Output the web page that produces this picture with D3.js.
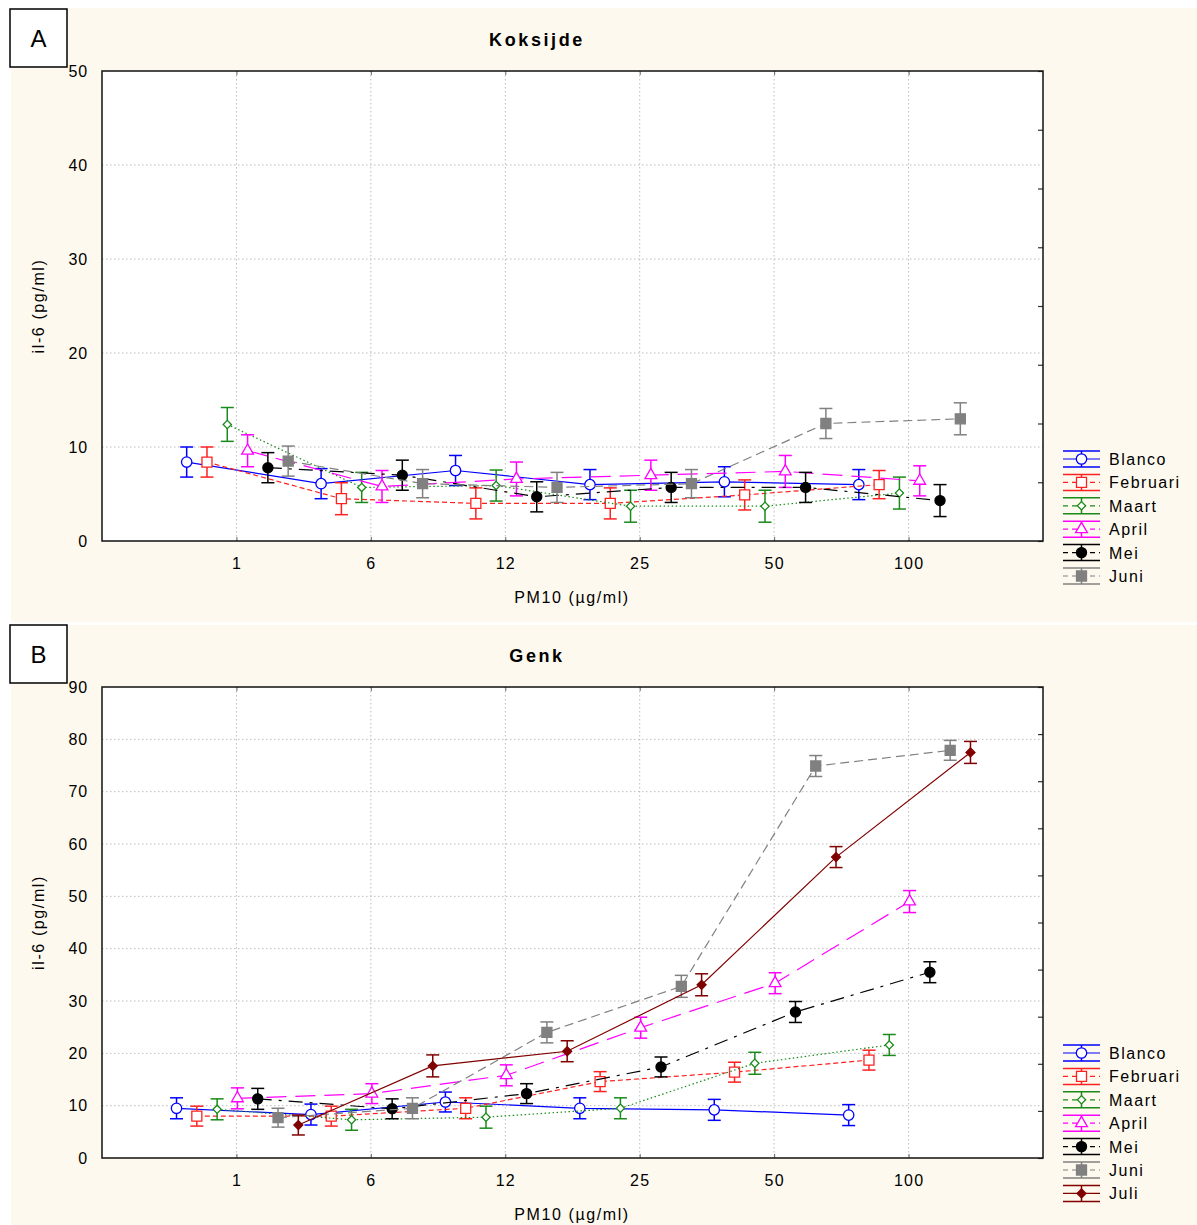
<!DOCTYPE html>
<html>
<head>
<meta charset="utf-8">
<script src="https://cdn.jsdelivr.net/npm/d3@7"></script>
<style>
  html, body { margin: 0; padding: 0; background: #fff; }
  svg { display: block; font-family: "Liberation Sans", Arial, sans-serif; }
</style>
</head>
<body>
<div id="chart"></div>
<script>
// PM10 concentrations (categorical x axis)
const concentrations = ['1', '6', '12', '25', '50', '100'];

const koksijdeSeries = ['Blanco', 'Februari', 'Maart', 'April', 'Mei', 'Juni'];
const genkSeries = ['Blanco', 'Februari', 'Maart', 'April', 'Mei', 'Juni', 'Juli'];

// Koksijde: means and error (+/-) per month
const kokBlanco = [8.4, 6.1, 7.5, 6.0, 6.3, 6.0];
const kokFebruari = [8.4, 4.5, 4.0, 4.0, 4.9, 6.0];
const kokMaart = [12.4, 5.7, 5.9, 3.7, 3.7, 5.1];
const kokApril = [9.6, 5.8, 6.6, 7.0, 7.4, 6.4];
const kokMei = [7.8, 7.0, 4.7, 5.7, 5.7, 4.3];
const kokJuni = [8.5, 6.1, 5.7, 6.1, 12.5, 13.0];
const kokBlancoErr = [1.6, 1.6, 1.6, 1.6, 1.6, 1.6];
const kokFebruariErr = [1.6, 1.7, 1.65, 1.65, 1.6, 1.5];
const kokMaartErr = [1.8, 1.6, 1.65, 1.7, 1.7, 1.7];
const kokAprilErr = [1.7, 1.7, 1.8, 1.6, 1.7, 1.6];
const kokMeiErr = [1.6, 1.6, 1.6, 1.6, 1.6, 1.7];
const kokJuniErr = [1.6, 1.5, 1.6, 1.5, 1.6, 1.7];

// Genk: means and error (+/-) per month
const genkBlanco = [9.5, 8.3, 10.7, 9.5, 9.2, 8.2];
const genkFebruari = [8.0, 8.0, 9.5, 14.6, 16.4, 18.7];
const genkMaart = [9.3, 7.3, 7.8, 9.5, 18.1, 21.6];
const genkApril = [11.4, 12.3, 15.8, 24.9, 33.4, 49.0];
const genkMei = [11.3, 9.4, 12.3, 17.4, 27.9, 35.5];
const genkJuni = [7.7, 9.5, 24.0, 32.8, 74.9, 77.9];
const genkJuli = [6.3, 17.6, 20.4, 33.1, 57.5, 77.5];
const genkBlancoErr = [2.0, 2.0, 1.9, 2.0, 2.0, 2.0];
const genkFebruariErr = [1.9, 1.9, 2.0, 1.9, 1.9, 1.9];
const genkMaartErr = [2.0, 2.0, 2.1, 2.0, 2.1, 2.0];
const genkAprilErr = [2.0, 1.9, 2.0, 2.0, 2.0, 2.1];
const genkMeiErr = [2.0, 1.9, 1.9, 1.9, 2.0, 2.0];
const genkJuniErr = [1.8, 2.0, 2.0, 2.1, 2.0, 1.9];
const genkJuliErr = [1.9, 2.1, 2.0, 2.1, 2.0, 2.1];

const koksijdeValues = [kokBlanco, kokFebruari, kokMaart, kokApril, kokMei, kokJuni];
const koksijdeErrors = [kokBlancoErr, kokFebruariErr, kokMaartErr, kokAprilErr, kokMeiErr, kokJuniErr];
const genkValues = [genkBlanco, genkFebruari, genkMaart, genkApril, genkMei, genkJuni, genkJuli];
const genkErrors = [genkBlancoErr, genkFebruariErr, genkMaartErr, genkAprilErr, genkMeiErr, genkJuniErr, genkJuliErr];

// diamonds are drawn as rotated squares (rot: 45)
const styles = {
  Blanco:   { color: '#0000ff', dash: null,       symbol: d3.symbolCircle,   size: 85,  fill: '#fff', rot: 0 },
  Februari: { color: '#ff2020', dash: '5,3',      symbol: d3.symbolSquare,   size: 100, fill: '#fff', rot: 0 },
  Maart:    { color: '#1a8a1a', dash: '1.5,2.5',  symbol: d3.symbolSquare,   size: 34,  fill: '#fff', rot: 45 },
  April:    { color: '#ff00ff', dash: '20,9',     symbol: d3.symbolTriangle, size: 60,  fill: '#fff', rot: 0 },
  Mei:      { color: '#000000', dash: '14,7,3,7', symbol: d3.symbolCircle,   size: 80,  fill: '#000', rot: 0 },
  Juni:     { color: '#808080', dash: '9,5',      symbol: d3.symbolSquare,   size: 100, fill: '#808080', rot: 0 },
  Juli:     { color: '#800000', dash: null,       symbol: d3.symbolSquare,   size: 40,  fill: '#800000', rot: 45 }
};

const W = 1197, H = 1225;
const svg = d3.select('#chart').append('svg').attr('width', W).attr('height', H);

function drawPanel(cfg) {
  const { top, bottom, left, right } = cfg.plot;
  const g = svg.append('g');

  // panel background
  g.append('rect').attr('x', 11).attr('y', cfg.bg[0]).attr('width', W - 11).attr('height', cfg.bg[1] - cfg.bg[0])
    .attr('fill', '#fef9ee');

  // letter box
  g.append('rect').attr('x', 10).attr('y', cfg.box).attr('width', 57).attr('height', 58)
    .attr('fill', '#fff').attr('stroke', '#000').attr('stroke-width', 1.5);
  g.append('text').attr('x', 38.5).attr('y', cfg.box + 38).attr('text-anchor', 'middle')
    .attr('font-size', 24).text(cfg.letter);

  // title
  g.append('text').attr('x', 537).attr('y', top - 25).attr('text-anchor', 'middle')
    .attr('font-size', 18).attr('font-weight', 'bold').attr('letter-spacing', 2.6).text(cfg.title);

  const x = d3.scalePoint().domain(concentrations).range([left, right]).padding(1);
  const n = cfg.series.length;
  const off = d3.scalePoint().domain(cfg.series).range([-(n - 1) / 2 * 20.3 + 1, (n - 1) / 2 * 20.3 + 1]);
  const y = d3.scaleLinear().domain([0, cfg.yMax]).range([bottom, top]);

  g.append('rect').attr('x', left).attr('y', top).attr('width', right - left).attr('height', bottom - top)
    .attr('fill', '#fff');

  // grid
  const grid = g.append('g').attr('stroke', '#bdbdbd').attr('stroke-dasharray', '1.5,2.5').attr('stroke-width', 1);
  grid.selectAll('.gx').data(concentrations).join('line')
    .attr('x1', d => x(d)).attr('x2', d => x(d)).attr('y1', top).attr('y2', bottom);
  grid.selectAll('.gy').data(d3.range(10, cfg.yMax, 10)).join('line')
    .attr('x1', left).attr('x2', right).attr('y1', d => y(d)).attr('y2', d => y(d));

  // axes
  const yAxis = g.append('g').attr('transform', `translate(${left},0)`)
    .call(d3.axisLeft(y).tickValues(d3.range(0, cfg.yMax + 1, 10)).tickSize(0).tickPadding(14));
  yAxis.select('.domain').remove();
  yAxis.selectAll('text').attr('font-size', 16).attr('fill', '#000').attr('letter-spacing', 0.8)
    .attr('font-family', 'Liberation Sans, Arial, sans-serif');

  const xAxis = g.append('g').attr('transform', `translate(0,${bottom})`)
    .call(d3.axisBottom(x).tickSize(0).tickPadding(17));
  xAxis.select('.domain').remove();
  xAxis.selectAll('text').attr('font-size', 16).attr('fill', '#000').attr('letter-spacing', 1.2)
    .attr('font-family', 'Liberation Sans, Arial, sans-serif');

  // short inner ticks on bottom and top
  const tb = g.append('g').attr('transform', `translate(0,${bottom})`).call(d3.axisTop(x).tickSize(4).tickFormat(''));
  tb.select('.domain').remove();
  tb.selectAll('line').attr('stroke', '#666');
  const tt = g.append('g').attr('transform', `translate(0,${top})`).call(d3.axisBottom(x).tickSize(4).tickFormat(''));
  tt.select('.domain').remove();
  tt.selectAll('line').attr('stroke', '#666');

  // right side ticks
  const yr = d3.scaleLinear().domain([0, cfg.rightDiv]).range([bottom, top]);
  const tr = g.append('g').attr('transform', `translate(${right},0)`)
    .call(d3.axisLeft(yr).ticks(cfg.rightDiv).tickSize(5).tickFormat(''));
  tr.select('.domain').remove();
  tr.selectAll('line').attr('stroke', '#333').attr('stroke-width', 1.2);

  // frame
  g.append('rect').attr('x', left).attr('y', top).attr('width', right - left).attr('height', bottom - top)
    .attr('fill', 'none').attr('stroke', '#111').attr('stroke-width', 1.5);

  // series
  cfg.series.forEach((name, i) => {
    const st = styles[name];
    const pts = concentrations.map((c, j) => ({ x: x(c) + off(name), v: cfg.values[i][j], e: cfg.errors[i][j] }));
    const sg = g.append('g');
    sg.append('path').datum(pts)
      .attr('d', d3.line().x(d => d.x).y(d => y(d.v)))
      .attr('fill', 'none').attr('stroke', st.color).attr('stroke-width', 1.2)
      .attr('stroke-dasharray', st.dash);
    const eb = sg.selectAll('.eb').data(pts).join('g').attr('stroke', st.color).attr('stroke-width', 1.5);
    eb.append('line').attr('x1', d => d.x).attr('x2', d => d.x).attr('y1', d => y(d.v - d.e)).attr('y2', d => y(d.v + d.e));
    eb.append('line').attr('x1', d => d.x - 6.5).attr('x2', d => d.x + 6.5).attr('y1', d => y(d.v + d.e)).attr('y2', d => y(d.v + d.e));
    eb.append('line').attr('x1', d => d.x - 6.5).attr('x2', d => d.x + 6.5).attr('y1', d => y(d.v - d.e)).attr('y2', d => y(d.v - d.e));
    sg.selectAll('.mk').data(pts).join('path')
      .attr('transform', d => `translate(${d.x},${y(d.v)}) rotate(${st.rot})`)
      .attr('d', d3.symbol().type(st.symbol).size(st.size))
      .attr('fill', st.fill).attr('stroke', st.color).attr('stroke-width', 1.3);
  });

  // axis titles
  g.append('text').attr('transform', `translate(44,${(top + bottom) / 2}) rotate(-90)`)
    .attr('text-anchor', 'middle').attr('font-size', 16).attr('letter-spacing', 1.6).text('il-6 (pg/ml)');
  g.append('text').attr('x', 572).attr('y', bottom + 62).attr('text-anchor', 'middle')
    .attr('font-size', 16).attr('letter-spacing', 1.6).text('PM10 (µg/ml)');

  // legend
  const lg = g.append('g');
  cfg.series.forEach((name, i) => {
    const st = styles[name];
    const cy = cfg.legendY + i * 23.4;
    const x0 = 1063, x1 = 1100, cx = (x0 + x1) / 2;
    const e = lg.append('g').attr('stroke', st.color);
    e.append('line').attr('x1', x0).attr('x2', x1).attr('y1', cy - 8).attr('y2', cy - 8).attr('stroke-width', 1.5);
    e.append('line').attr('x1', x0).attr('x2', x1).attr('y1', cy + 8).attr('y2', cy + 8).attr('stroke-width', 1.5);
    e.append('line').attr('x1', cx).attr('x2', cx).attr('y1', cy - 8).attr('y2', cy + 8).attr('stroke-width', 1.5);
    e.append('line').attr('x1', x0).attr('x2', x1).attr('y1', cy).attr('y2', cy).attr('stroke-width', 1.2)
      .attr('stroke-dasharray', st.dash ? '5,4' : null);
    e.append('path').attr('transform', `translate(${cx},${cy}) rotate(${st.rot})`)
      .attr('d', d3.symbol().type(st.symbol).size(st.size)).attr('fill', st.fill).attr('stroke-width', 1.3);
    lg.append('text').attr('x', 1109).attr('y', cy + 6).attr('font-size', 16).attr('letter-spacing', 1.5)
      .attr('fill', '#000').text(name);
  });
}

drawPanel({
  letter: 'A', title: 'Koksijde', bg: [8, 622], box: 9,
  plot: { top: 71, bottom: 541, left: 102, right: 1043 },
  yMax: 50, rightDiv: 8, series: koksijdeSeries,
  values: koksijdeValues, errors: koksijdeErrors, legendY: 459
});

drawPanel({
  letter: 'B', title: 'Genk', bg: [625, 1225], box: 625,
  plot: { top: 687, bottom: 1158, left: 102, right: 1043 },
  yMax: 90, rightDiv: 10, series: genkSeries,
  values: genkValues, errors: genkErrors, legendY: 1053
});
</script>
</body>
</html>
